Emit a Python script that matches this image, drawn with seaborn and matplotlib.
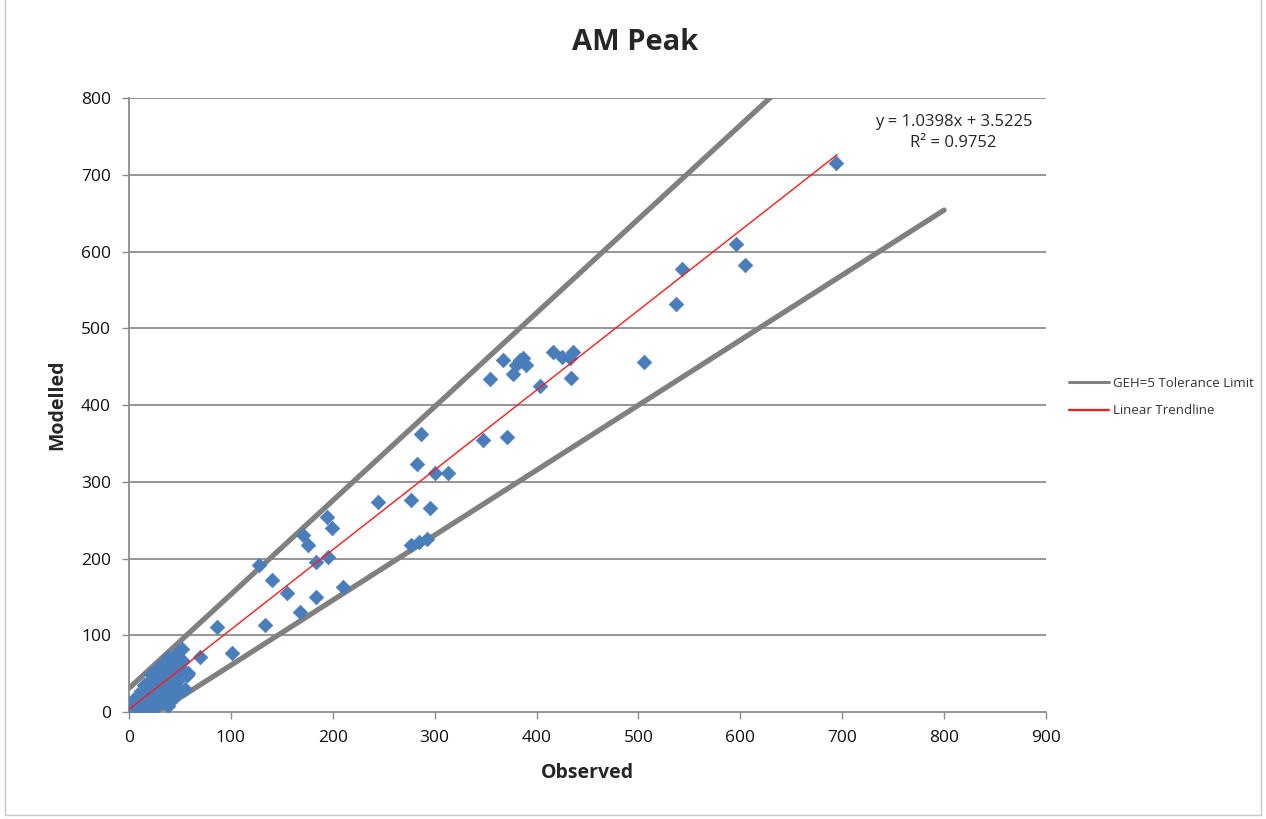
import matplotlib.pyplot as plt
import matplotlib.patches as mpatches
import seaborn as sns
import pandas as pd

# observed vs modelled flows
observed = [694, 596, 605, 543, 537, 505, 434, 416, 425, 436, 433, 367, 384, 390, 377, 354, 403, 387, 380,
            287, 347, 371, 283, 300, 313, 244, 277, 295, 194, 199, 171, 176, 277, 285, 292, 128, 140, 155,
            168, 184, 210, 184, 195, 86, 133, 70, 101, 57,
            0, 2, 4, 6, 8, 3, 5, 8, 10, 12, 14, 15, 18, 18, 20, 22, 24, 25, 26, 28, 30, 30, 32, 34, 35, 36,
            38, 40, 40, 42, 42, 44, 45, 45, 46, 48, 48, 50, 50, 52, 53, 55, 55, 57, 15, 12, 10, 20, 28, 22,
            35, 38, 32, 26, 6, 16, 20, 11, 3, 7, 58, 33]
modelled = [715, 610, 582, 577, 532, 456, 435, 469, 463, 469, 461, 459, 459, 452, 441, 434, 425, 461, 452,
            362, 354, 358, 323, 311, 312, 274, 276, 266, 254, 240, 231, 217, 218, 222, 226, 191, 172, 155,
            130, 150, 163, 196, 202, 111, 113, 72, 77, 48,
            0, 1, 3, 0, 2, 8, 12, 6, 15, 4, 10, 20, 25, 6, 32, 14, 3, 40, 22, 10, 48, 30, 18, 55, 38, 26,
            8, 62, 45, 30, 16, 70, 52, 38, 22, 78, 60, 44, 28, 82, 66, 52, 30, 48, 35, 28, 22, 40, 58, 50,
            65, 72, 45, 32, 18, 2, 12, 0, 0, 10, 51, 16]

# GEH=5 tolerance limit lines (as drawn in the chart)
geh_upper_x = [0, 660]
geh_upper_y = [31, 838]
geh_lower_x = [28, 800]
geh_lower_y = [0, 654]

# linear trendline from the chart's equation
trend_slope = 1.0398
trend_intercept = 3.5225
trend_r2 = 0.9752
trend_x = [0, 695]
trend_y = [trend_slope * v + trend_intercept for v in trend_x]

x_ticks = list(range(0, 1000, 100))
y_ticks = list(range(0, 900, 100))

points = pd.DataFrame({"Observed": observed, "Modelled": modelled})

sns.set_style("white")
plt.rcParams["font.family"] = ["Open Sans", "DejaVu Sans"]

fig = plt.figure(figsize=(12.66, 8.19), dpi=100)
ax = fig.add_axes([0.1019, 0.1306, 0.7243, 0.7497])

grid_color = "#8c8c8c"
for yv in y_ticks[1:]:
    ax.axhline(yv, color=grid_color, lw=1.3, zorder=0)

sns.lineplot(x=geh_upper_x, y=geh_upper_y, ax=ax, color="#808080", lw=3.8,
             label="GEH=5 Tolerance Limit", zorder=2, solid_capstyle="round")
sns.lineplot(x=geh_lower_x, y=geh_lower_y, ax=ax, color="#808080", lw=3.8, zorder=2,
             solid_capstyle="round")
sns.scatterplot(data=points, x="Observed", y="Modelled", ax=ax, marker="D", s=55,
                color="#4a7ebb", edgecolor="#4a7ebb", linewidth=0.5, zorder=3)
sns.lineplot(x=trend_x, y=trend_y, ax=ax, color="#ff1a1a", lw=1.0, label="Linear Trendline", zorder=4)

ax.set_xlim(0, 900)
ax.set_ylim(0, 800)
ax.set_xticks(x_ticks)
ax.set_yticks(y_ticks)
ax.tick_params(axis="both", direction="out", length=5, width=1, color=grid_color,
               labelsize=12.5, bottom=True, left=True)
ax.tick_params(axis="x", pad=8)
ax.tick_params(axis="y", pad=8)
for lbl in ax.get_xticklabels() + ax.get_yticklabels():
    lbl.set_color("#111111")

for side in ["top", "right"]:
    ax.spines[side].set_visible(False)
for side in ["left", "bottom"]:
    ax.spines[side].set_color(grid_color)
    ax.spines[side].set_linewidth(1.3)

ax.set_xlabel("Observed", fontsize=14, fontweight="bold", labelpad=12)
ax.set_ylabel("Modelled", fontsize=14, fontweight="bold", labelpad=10)
fig.text(0.502, 0.948, "AM Peak", ha="center", va="center", fontsize=21, fontweight="bold")

fig.text(0.753, 0.851, "y = 1.0398x + 3.5225", ha="center", va="center", fontsize=12)
fig.text(0.753, 0.825, f"R² = {trend_r2}", ha="center", va="center", fontsize=12)

leg = ax.legend(loc="center left", bbox_to_anchor=(0.835, 0.515), bbox_transform=fig.transFigure,
                frameon=False, fontsize=9.5, handlelength=3.0, handletextpad=0.3, labelspacing=1.1)
for txt in leg.get_texts():
    txt.set_color("#333333")
for h in leg.get_lines():
    h.set_linewidth(2.2 if h.get_color() == "#808080" else 1.6)

fig.patches.append(mpatches.Rectangle((0.004, 0.005), 0.992, 1.2, transform=fig.transFigure,
                                      fill=False, edgecolor="#c8c8c8", lw=1.0))

plt.savefig("out.png", dpi=100)
plt.close()
